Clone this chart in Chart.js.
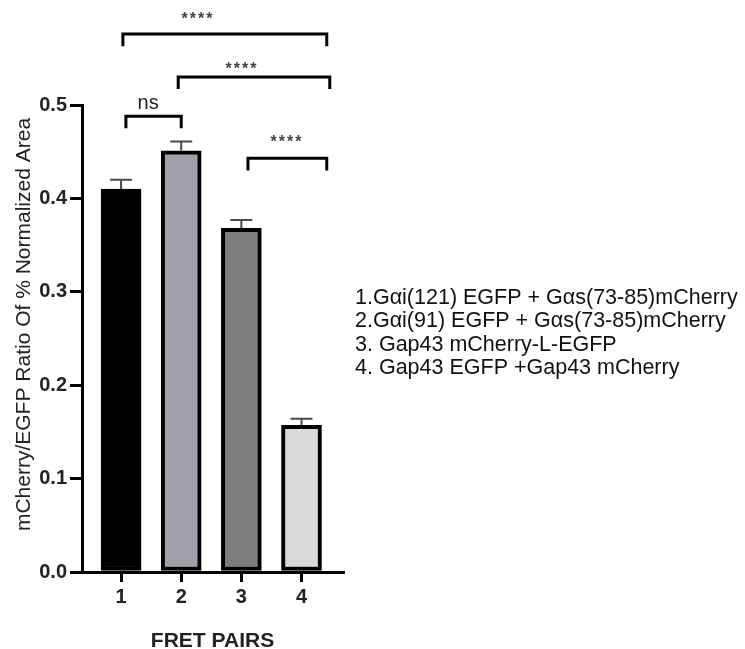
<!DOCTYPE html>
<html><head><meta charset="utf-8">
<script src="https://cdn.jsdelivr.net/npm/chart.js@4/dist/chart.umd.min.js"></script>
<style>html,body{margin:0;padding:0;background:#fff;} #wrap{width:745px;height:649px;position:relative;}</style>
</head><body><div id="wrap"><canvas id="c" width="745" height="649"></canvas></div>
<script>
const categories = [1, 2, 3, 4];
const categoryLabels = ['1', '2', '3', '4'];
const means = [0.410, 0.451, 0.368, 0.157];
const sem = [0.010, 0.010, 0.009, 0.007];
const barColors = ['#000000', '#a0a0a8', '#7d7d7d', '#d9d9d9'];
const yTickValues = [0, 0.1, 0.2, 0.3, 0.4, 0.5];
const legendLines = [
  '1.Gαi(121) EGFP + Gαs(73-85)mCherry',
  '2.Gαi(91) EGFP + Gαs(73-85)mCherry',
  '3. Gap43 mCherry-L-EGFP',
  '4. Gap43 EGFP +Gap43 mCherry'
];
const bracketFrom = [1.03, 1.95, 1.08, 3.11];
const bracketTo = [4.42, 4.47, 2.00, 4.42];
const bracketLevel = [0.576, 0.530, 0.488, 0.443];
const bracketLabels = ['****', '****', 'ns', '****'];
const bracketLabelX = [2.28, 3.01, 1.45, 3.76];
const bracketLabelLevel = [0.595, 0.541, 0.502, 0.463];
const yTitle = 'mCherry/EGFP Ratio Of % Normalized Area';
const xTitle = 'FRET PAIRS';

const FONT = '"Liberation Sans", Arial, sans-serif';

const overlay = {
  id: 'overlay',
  afterDatasetsDraw(chart) {
    const { ctx, scales: { x, y } } = chart;
    ctx.save();
    // error bars
    ctx.strokeStyle = '#4a4a4a';
    ctx.lineWidth = 2;
    categories.forEach((c, i) => {
      const px = x.getPixelForValue(c);
      const y0 = y.getPixelForValue(means[i]);
      const y1 = y.getPixelForValue(means[i] + sem[i]);
      ctx.beginPath();
      ctx.moveTo(px, y0); ctx.lineTo(px, y1);
      ctx.moveTo(px - 11, y1); ctx.lineTo(px + 11, y1);
      ctx.stroke();
    });
    // significance brackets
    ctx.strokeStyle = '#000';
    ctx.lineWidth = 3;
    ctx.lineJoin = 'miter';
    const drop = 0.013;
    bracketFrom.forEach((f, i) => {
      const x0 = x.getPixelForValue(f), x1 = x.getPixelForValue(bracketTo[i]);
      const yl = y.getPixelForValue(bracketLevel[i]);
      const yb = y.getPixelForValue(bracketLevel[i] - drop);
      ctx.beginPath();
      ctx.moveTo(x0, yb); ctx.lineTo(x0, yl); ctx.lineTo(x1, yl); ctx.lineTo(x1, yb);
      ctx.stroke();
      const isNs = bracketLabels[i] === 'ns';
      ctx.fillStyle = isNs ? '#222' : '#444';
      ctx.font = isNs ? '20px ' + FONT : 'bold 16px ' + FONT;
      ctx.textAlign = 'center';
      ctx.textBaseline = 'middle';
      ctx.letterSpacing = isNs ? '0px' : '2px';
      ctx.fillText(bracketLabels[i], x.getPixelForValue(bracketLabelX[i]), y.getPixelForValue(bracketLabelLevel[i]) + (isNs ? 0 : 3));
    });
    ctx.letterSpacing = '0px';
    // axis titles
    ctx.fillStyle = '#222';
    ctx.save();
    ctx.translate(30, (chart.chartArea.top + chart.chartArea.bottom) / 2 - 14);
    ctx.rotate(-Math.PI / 2);
    ctx.font = '21px ' + FONT;
    ctx.textAlign = 'center';
    ctx.textBaseline = 'alphabetic';
    ctx.fillText(yTitle, 0, 0);
    ctx.restore();
    ctx.font = 'bold 21px ' + FONT;
    ctx.textAlign = 'center';
    ctx.textBaseline = 'alphabetic';
    ctx.fillText(xTitle, (chart.chartArea.left + chart.chartArea.right) / 2, 647);
    // legend text
    ctx.font = '21.5px ' + FONT;
    ctx.textAlign = 'left';
    ctx.textBaseline = 'middle';
    ctx.fillStyle = '#111';
    const lx = chart.chartArea.right + 12;
    legendLines.forEach((t, i) => {
      ctx.fillText(t, lx, 298 + i * 23.3);
    });
    ctx.restore();
  }
};

new Chart(document.getElementById('c'), {
  type: 'bar',
  data: {
    datasets: [{
      data: categories.map((c, i) => ({ x: c, y: means[i] })),
      backgroundColor: barColors,
      borderColor: '#000',
      borderWidth: 4,
      borderSkipped: false,
      barThickness: 40
    }]
  },
  options: {
    responsive: false,
    animation: false,
    layout: { padding: { top: 105, right: 402, left: 0, bottom: 0 } },
    plugins: { legend: { display: false }, tooltip: { enabled: false } },
    scales: {
      x: {
        type: 'linear',
        offset: false,
        min: 0.35,
        max: 4.69,
        afterBuildTicks: s => { s.ticks = categories.map(v => ({ value: v })); },
        afterFit: s => { s.height = 77; },
        ticks: {
          font: { family: FONT, size: 20, weight: 'bold' },
          color: '#222',
          padding: 3,
          callback: v => categoryLabels[categories.indexOf(v)]
        },
        grid: { display: true, offset: false, drawOnChartArea: false, drawTicks: true, tickLength: 10, lineWidth: 3, color: '#000' },
        border: { display: true, width: 3, color: '#000' }
      },
      y: {
        type: 'linear',
        min: 0,
        max: 0.5,
        afterBuildTicks: s => { s.ticks = yTickValues.map(v => ({ value: v })); },
        afterFit: s => { s.width = 82; },
        ticks: {
          font: { family: FONT, size: 20, weight: 'bold' },
          color: '#222',
          padding: 3,
          callback: v => Number(v).toFixed(1)
        },
        grid: { display: true, drawOnChartArea: false, drawTicks: true, tickLength: 12, lineWidth: 3, color: '#000' },
        border: { display: true, width: 3, color: '#000' }
      }
    }
  },
  plugins: [overlay]
});
</script>
</body></html>
